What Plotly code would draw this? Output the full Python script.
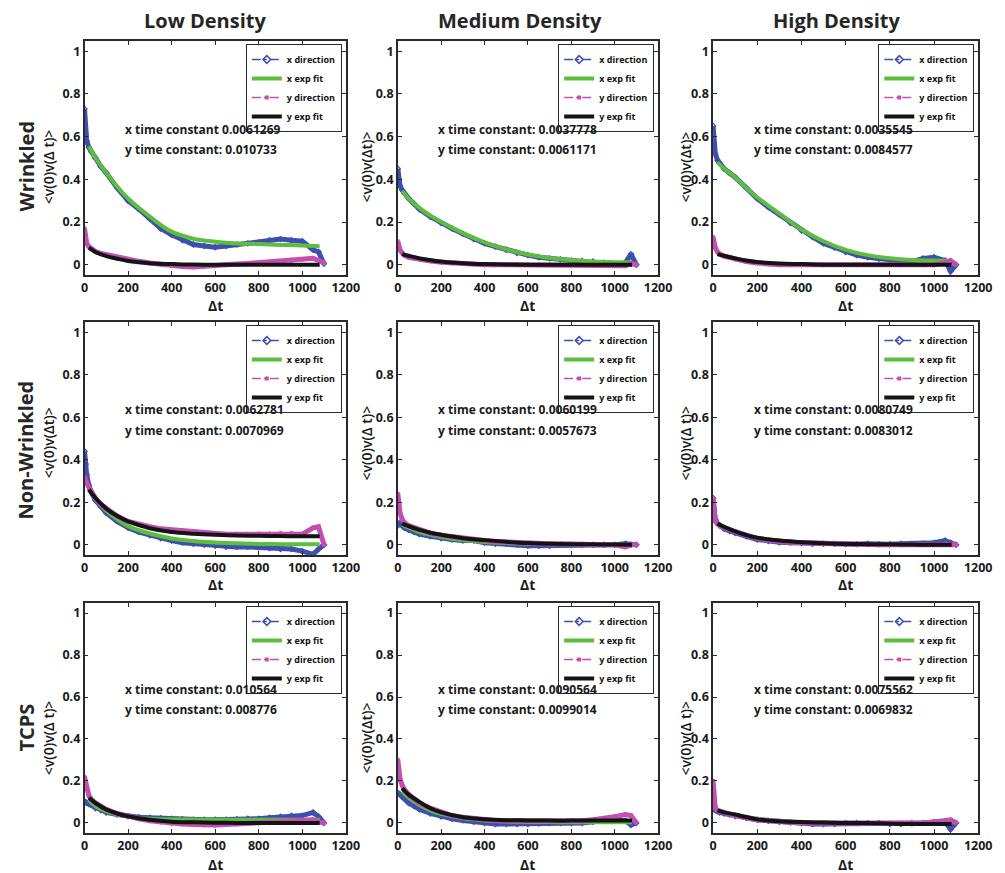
import plotly.graph_objects as go

W, H = 1005, 873

# ---------------- data ----------------
dt = [0, 5, 10, 20, 30, 50, 75, 100, 150, 200, 250, 300, 350, 400, 450, 500,
      550, 600, 650, 700, 750, 800, 850, 900, 950, 1000, 1050, 1075, 1100]
dt_fit = [20, 50, 100, 150, 200, 300, 400, 500, 600, 700, 800, 900, 1000, 1080]

# Wrinkled - Low density
wl_x = [0.73, 0.61, 0.58, 0.55, 0.53, 0.50, 0.46, 0.43, 0.36, 0.30, 0.26, 0.215, 0.17, 0.14, 0.115, 0.095,
        0.088, 0.082, 0.088, 0.095, 0.10, 0.105, 0.115, 0.12, 0.115, 0.11, 0.07, 0.06, 0.005]
wl_xfit = [0.555, 0.50, 0.43, 0.365, 0.31, 0.225, 0.155, 0.122, 0.108, 0.10, 0.097, 0.093, 0.09, 0.087]
wl_y = [0.17, 0.12, 0.10, 0.085, 0.075, 0.062, 0.053, 0.047, 0.035, 0.026, 0.016, 0.008, 0.002, -0.004, -0.008, -0.01,
        -0.008, -0.005, 0.0, 0.003, 0.006, 0.01, 0.013, 0.016, 0.02, 0.025, 0.03, 0.02, 0.01]
wl_yfit = [0.08, 0.06, 0.04, 0.028, 0.018, 0.007, 0.003, 0.001, 0.0, 0.0, 0.0, 0.0, 0.0, 0.0]

# Wrinkled - Medium density
wm_x = [0.45, 0.40, 0.37, 0.35, 0.335, 0.31, 0.285, 0.26, 0.225, 0.195, 0.17, 0.145, 0.12, 0.10, 0.085, 0.07,
        0.055, 0.045, 0.035, 0.03, 0.025, 0.02, 0.018, 0.015, 0.01, 0.0, 0.01, 0.05, 0.0]
wm_xfit = [0.345, 0.31, 0.265, 0.23, 0.20, 0.148, 0.105, 0.072, 0.048, 0.032, 0.022, 0.015, 0.012, 0.01]
wm_y = [0.11, 0.085, 0.07, 0.055, 0.045, 0.035, 0.03, 0.025, 0.018, 0.012, 0.008, 0.005, 0.003, 0.0, 0.0, 0.0,
        0.0, 0.0, 0.0, 0.0, 0.0, 0.0, 0.0, 0.0, 0.0, 0.0, -0.005, 0.005, 0.0]
wm_yfit = [0.05, 0.042, 0.03, 0.022, 0.015, 0.007, 0.003, 0.001, 0.0, 0.0, 0.0, 0.0, 0.0, 0.0]

# Wrinkled - High density
wh_x = [0.65, 0.56, 0.52, 0.49, 0.475, 0.45, 0.43, 0.41, 0.36, 0.31, 0.27, 0.235, 0.195, 0.16, 0.13, 0.10,
        0.08, 0.06, 0.045, 0.035, 0.028, 0.022, 0.018, 0.015, 0.03, 0.035, 0.02, -0.03, 0.0]
wh_xfit = [0.48, 0.45, 0.41, 0.36, 0.315, 0.24, 0.165, 0.11, 0.07, 0.045, 0.03, 0.022, 0.02, 0.018]
wh_y = [0.13, 0.10, 0.08, 0.06, 0.05, 0.04, 0.033, 0.025, 0.015, 0.008, 0.003, 0.0, 0.0, 0.0, 0.0, 0.0,
        0.0, 0.0, 0.0, 0.0, 0.0, 0.0, 0.0, 0.0, 0.0, 0.0, 0.01, 0.02, 0.0]
wh_yfit = [0.05, 0.042, 0.03, 0.02, 0.013, 0.006, 0.003, 0.0, 0.0, 0.0, 0.0, 0.0, 0.0, 0.0]

# Non-Wrinkled - Low density
nl_x = [0.44, 0.38, 0.33, 0.28, 0.25, 0.21, 0.18, 0.15, 0.11, 0.08, 0.06, 0.045, 0.03, 0.02, 0.01, 0.005,
        0.0, -0.005, -0.01, -0.01, -0.01, -0.012, -0.015, -0.02, -0.02, -0.03, -0.045, -0.02, 0.0]
nl_xfit = [0.26, 0.215, 0.16, 0.12, 0.088, 0.053, 0.03, 0.018, 0.011, 0.007, 0.004, 0.003, 0.002, 0.002]
nl_y = [0.32, 0.30, 0.29, 0.27, 0.25, 0.22, 0.19, 0.17, 0.135, 0.11, 0.095, 0.085, 0.075, 0.07, 0.065, 0.06,
        0.055, 0.05, 0.05, 0.05, 0.05, 0.052, 0.052, 0.055, 0.055, 0.05, 0.08, 0.085, 0.0]
nl_yfit = [0.26, 0.22, 0.17, 0.135, 0.11, 0.078, 0.06, 0.052, 0.047, 0.044, 0.042, 0.041, 0.04, 0.04]

# Non-Wrinkled - Medium density
nm_x = [0.09, 0.10, 0.10, 0.09, 0.08, 0.07, 0.06, 0.05, 0.04, 0.03, 0.025, 0.02, 0.02, 0.01, 0.005, 0.005,
        0.0, -0.005, -0.005, -0.005, 0.0, 0.0, 0.0, 0.0, 0.0, 0.0, 0.005, 0.0, 0.0]
nm_xfit = [0.095, 0.08, 0.06, 0.047, 0.037, 0.022, 0.013, 0.008, 0.005, 0.003, 0.002, 0.001, 0.0, 0.0]
nm_y = [0.24, 0.19, 0.15, 0.12, 0.105, 0.09, 0.08, 0.07, 0.055, 0.045, 0.038, 0.03, 0.025, 0.02, 0.015, 0.012,
        0.01, 0.008, 0.005, 0.005, 0.005, 0.003, 0.0, 0.0, 0.0, 0.0, -0.01, 0.0, 0.0]
nm_yfit = [0.10, 0.088, 0.07, 0.057, 0.047, 0.031, 0.022, 0.014, 0.008, 0.005, 0.003, 0.002, 0.001, 0.0]

# Non-Wrinkled - High density
nh_x = [0.22, 0.16, 0.12, 0.10, 0.09, 0.075, 0.065, 0.055, 0.04, 0.025, 0.018, 0.012, 0.01, 0.008, 0.005, 0.005,
        0.005, 0.003, 0.003, 0.005, 0.003, 0.003, 0.005, 0.005, 0.005, 0.01, 0.02, 0.01, 0.0]
nh_xfit = [0.10, 0.085, 0.062, 0.045, 0.032, 0.02, 0.012, 0.007, 0.004, 0.003, 0.002, 0.001, 0.0, 0.0]
nh_y = [0.22, 0.15, 0.11, 0.10, 0.09, 0.08, 0.07, 0.06, 0.045, 0.03, 0.022, 0.015, 0.012, 0.01, 0.008, 0.005,
        0.003, 0.003, 0.0, 0.0, 0.0, 0.0, 0.0, 0.0, 0.0, 0.0, 0.005, 0.0, 0.0]
nh_yfit = [0.10, 0.084, 0.063, 0.046, 0.033, 0.02, 0.012, 0.007, 0.004, 0.003, 0.002, 0.001, 0.0, 0.0]

# TCPS - Low density
tl_x = [0.10, 0.10, 0.095, 0.09, 0.085, 0.07, 0.06, 0.05, 0.04, 0.032, 0.027, 0.025, 0.022, 0.02, 0.018, 0.015,
        0.015, 0.015, 0.015, 0.018, 0.02, 0.02, 0.025, 0.03, 0.035, 0.035, 0.05, 0.03, 0.0]
tl_xfit = [0.11, 0.08, 0.055, 0.04, 0.03, 0.02, 0.017, 0.016, 0.015, 0.015, 0.015, 0.015, 0.015, 0.015]
tl_y = [0.22, 0.19, 0.16, 0.13, 0.115, 0.095, 0.08, 0.065, 0.045, 0.03, 0.02, 0.01, 0.003, -0.003, -0.005, -0.008,
        -0.01, -0.01, -0.008, -0.005, -0.003, 0.0, 0.0, 0.003, 0.005, 0.01, 0.015, 0.005, 0.0]
tl_yfit = [0.12, 0.095, 0.064, 0.045, 0.032, 0.015, 0.006, 0.003, 0.001, 0.0, 0.0, 0.0, 0.0, 0.0]

# TCPS - Medium density
tm_x = [0.14, 0.14, 0.135, 0.125, 0.115, 0.095, 0.08, 0.065, 0.045, 0.03, 0.02, 0.012, 0.005, 0.0, -0.005, -0.005,
        -0.005, -0.005, -0.003, 0.0, 0.0, 0.0, 0.0, 0.005, 0.01, 0.015, 0.01, -0.01, 0.0]
tm_xfit = [0.15, 0.12, 0.085, 0.06, 0.043, 0.022, 0.012, 0.007, 0.005, 0.004, 0.003, 0.003, 0.003, 0.003]
tm_y = [0.30, 0.25, 0.21, 0.18, 0.16, 0.135, 0.115, 0.095, 0.07, 0.05, 0.035, 0.027, 0.02, 0.015, 0.012, 0.01,
        0.01, 0.01, 0.008, 0.008, 0.01, 0.01, 0.01, 0.015, 0.02, 0.03, 0.04, 0.035, 0.0]
tm_yfit = [0.165, 0.135, 0.10, 0.07, 0.05, 0.027, 0.017, 0.013, 0.012, 0.011, 0.011, 0.011, 0.011, 0.011]

# TCPS - High density
th_x = [0.15, 0.08, 0.06, 0.055, 0.05, 0.045, 0.04, 0.033, 0.025, 0.015, 0.01, 0.005, 0.002, 0.0, -0.005, -0.005,
        -0.005, 0.0, 0.0, 0.0, 0.0, -0.005, -0.005, 0.0, 0.0, 0.005, 0.005, -0.03, 0.0]
th_xfit = [0.058, 0.05, 0.038, 0.028, 0.02, 0.01, 0.005, 0.002, 0.001, 0.0, 0.0, 0.0, 0.0, 0.0]
th_y = [0.20, 0.10, 0.07, 0.06, 0.055, 0.05, 0.042, 0.035, 0.025, 0.015, 0.01, 0.005, 0.003, 0.0, 0.0, 0.0,
        0.0, 0.0, 0.0, 0.0, 0.0, -0.005, -0.005, -0.005, 0.0, 0.005, 0.01, 0.015, 0.0]
th_yfit = [0.06, 0.05, 0.04, 0.028, 0.017, 0.008, 0.004, 0.002, 0.0, 0.0, -0.004, -0.005, -0.005, -0.005]

col_titles = ["Low Density", "Medium Density", "High Density"]
row_titles = ["Wrinkled", "Non-Wrinkled", "TCPS"]
x_tick_vals = [0, 200, 400, 600, 800, 1000, 1200]
y_tick_vals = [0, 0.2, 0.4, 0.6, 0.8, 1]
y_tick_text = ["0", "0.2", "0.4", "0.6", "0.8", "1"]

x_const_text = ["x time constant 0.0061269", "x time constant: 0.0037778", "x time constant: 0.0035545",
                "x time constant: 0.0062781", "x time constant: 0.0060199", "x time constant: 0.0080749",
                "x time constant: 0.010564", "x time constant: 0.0090564", "x time constant: 0.0075562"]
y_const_text = ["y time constant: 0.010733", "y time constant: 0.0061171", "y time constant: 0.0084577",
                "y time constant: 0.0070969", "y time constant: 0.0057673", "y time constant: 0.0083012",
                "y time constant: 0.008776", "y time constant: 0.0099014", "y time constant: 0.0069832"]
y_axis_titles = ["<v(0)v(Δ t)>", "<v(0)v(Δt)>", "<v(0)v(Δt)>",
                 "<v(0)v(Δt)>", "<v(0)v(Δ t)>", "<v(0)v(Δ t)>",
                 "<v(0)v(Δ t)>", "<v(0)v(Δt)>", "<v(0)v(Δ t)>"]
x_axis_title = "Δt"
legend_names = ["x direction", "x exp fit", "y direction", "y exp fit"]

panels = [
    (wl_x, wl_xfit, wl_y, wl_yfit), (wm_x, wm_xfit, wm_y, wm_yfit), (wh_x, wh_xfit, wh_y, wh_yfit),
    (nl_x, nl_xfit, nl_y, nl_yfit), (nm_x, nm_xfit, nm_y, nm_yfit), (nh_x, nh_xfit, nh_y, nh_yfit),
    (tl_x, tl_xfit, tl_y, tl_yfit), (tm_x, tm_xfit, tm_y, tm_yfit), (th_x, th_xfit, th_y, th_yfit),
]

# ---------------- layout geometry (pixels) ----------------
col_px = [(82, 348), (401, 666), (722, 992)]
row_px = [(41, 275), (322, 555), (603, 833)]
xtitle_y = [305, 584, 864]

BLUE = "#3E4FAE"
GREEN = "#5DBE3D"
MAG = "#C350B0"
BLACK = "#141414"
AX = "#2a2a2a"
FONT = "Open Sans"


def esc(s):
    return s.replace("<", "&lt;").replace(">", "&gt;")


fig = go.Figure()
layout = {}
annotations = []

for k, (xd, xf, yd, yf) in enumerate(panels):
    r, c = divmod(k, 3)
    sfx = "" if k == 0 else str(k + 1)
    xa, ya = "x" + sfx, "y" + sfx
    lg = "legend" + sfx

    # x direction data
    fig.add_trace(go.Scatter(x=dt, y=xd, xaxis=xa, yaxis=ya, mode="lines+markers",
                             line=dict(color=BLUE, width=5),
                             marker=dict(symbol="diamond-open", size=4, color=BLUE, line=dict(width=1.2)),
                             showlegend=False, hoverinfo="skip"))
    fig.add_trace(go.Scatter(x=[None], y=[None], xaxis=xa, yaxis=ya, mode="lines+markers",
                             line=dict(color=BLUE, width=1.5, dash="dashdot"),
                             marker=dict(symbol="diamond-open", size=6, color=BLUE, line=dict(width=1.5)),
                             name=legend_names[0], legend=lg))
    # x exp fit
    fig.add_trace(go.Scatter(x=dt_fit, y=xf, xaxis=xa, yaxis=ya, mode="lines",
                             line=dict(color=GREEN, width=4, shape="spline"),
                             name=legend_names[1], legend=lg, hoverinfo="skip"))
    # y direction data
    fig.add_trace(go.Scatter(x=dt, y=yd, xaxis=xa, yaxis=ya, mode="lines+markers",
                             line=dict(color=MAG, width=5),
                             marker=dict(symbol="asterisk-open", size=4, color=MAG, line=dict(width=1.2, color=MAG)),
                             showlegend=False, hoverinfo="skip"))
    fig.add_trace(go.Scatter(x=[None], y=[None], xaxis=xa, yaxis=ya, mode="lines+markers",
                             line=dict(color=MAG, width=1.5, dash="dashdot"),
                             marker=dict(symbol="square", size=4, color=MAG),
                             name=legend_names[2], legend=lg))
    # y exp fit
    fig.add_trace(go.Scatter(x=dt_fit, y=yf, xaxis=xa, yaxis=ya, mode="lines",
                             line=dict(color=BLACK, width=4, shape="spline"),
                             name=legend_names[3], legend=lg, hoverinfo="skip"))

    x0, x1 = col_px[c]
    y0, y1 = row_px[r]
    tickfont = dict(family=FONT, size=12.5, color="#1a1a1a", weight="bold")
    layout["xaxis" + sfx] = dict(
        domain=[x0 / W, x1 / W], range=[0, 1200], anchor=ya,
        tickvals=x_tick_vals, ticks="inside", ticklen=4, tickcolor=AX,
        showline=True, mirror="ticks", linecolor=AX, linewidth=1.5,
        showgrid=False, zeroline=False, tickfont=tickfont,
    )
    layout["yaxis" + sfx] = dict(
        domain=[1 - y1 / H, 1 - y0 / H], range=[-0.048, 1.048], anchor=xa,
        tickvals=y_tick_vals, ticktext=y_tick_text, ticks="inside", ticklen=4, tickcolor=AX,
        showline=True, mirror="ticks", linecolor=AX, linewidth=1.5,
        showgrid=False, zeroline=False, tickfont=tickfont,
    )
    layout[lg] = dict(
        x=(x1 - 4) / W, y=1 - (y0 + 3) / H, xanchor="right", yanchor="top",
        bgcolor="white", bordercolor=AX, borderwidth=1,
        font=dict(family=FONT, size=9, color="#111", weight="bold"),
        itemwidth=30, tracegroupgap=0, traceorder="normal",
    )

    # time-constant labels
    for txt, yy in ((x_const_text[k], 0.635), (y_const_text[k], 0.54)):
        annotations.append(dict(text=txt, x=175, y=yy, xref=xa, yref=ya, xanchor="left", yanchor="middle",
                                showarrow=False, font=dict(family=FONT, size=12, color="#1a1a1a", weight="bold")))

    # x-axis title
    annotations.append(dict(text=x_axis_title, x=(x0 + x1) / 2 / W, y=1 - xtitle_y[r] / H,
                            xref="paper", yref="paper", showarrow=False, xanchor="center", yanchor="middle",
                            font=dict(family=FONT, size=14, color="#1a1a1a", weight="bold")))
    # y-axis title
    ytitle_x = [45, 369, 693][c]
    ytitle_y = [167, 443, 738][r]
    annotations.append(dict(text=esc(y_axis_titles[k]), x=ytitle_x / W, y=1 - ytitle_y / H,
                            xref="paper", yref="paper", textangle=-90, showarrow=False,
                            xanchor="center", yanchor="middle",
                            font=dict(family=FONT, size=14, color="#1a1a1a", weight=600)))

# column titles
for c, t in enumerate(col_titles):
    cx = [205, 525, 848][c]
    annotations.append(dict(text=t, x=cx / W, y=1 - 20 / H, xref="paper", yref="paper",
                            showarrow=False, xanchor="center", yanchor="middle",
                            font=dict(family=FONT, size=20, color="#262626", weight="bold")))
# row titles
for r, t in enumerate(row_titles):
    cy = [166, 450, 728][r]
    annotations.append(dict(text=t, x=22 / W, y=1 - cy / H, xref="paper", yref="paper",
                            textangle=-90, showarrow=False, xanchor="center", yanchor="middle",
                            font=dict(family=FONT, size=20, color="#262626", weight="bold")))

fig.update_layout(**layout)
fig.update_layout(
    width=W, height=H, margin=dict(l=0, r=0, t=0, b=0),
    paper_bgcolor="white", plot_bgcolor="white",
    annotations=annotations, showlegend=True,
)

fig.write_html("out.html")
